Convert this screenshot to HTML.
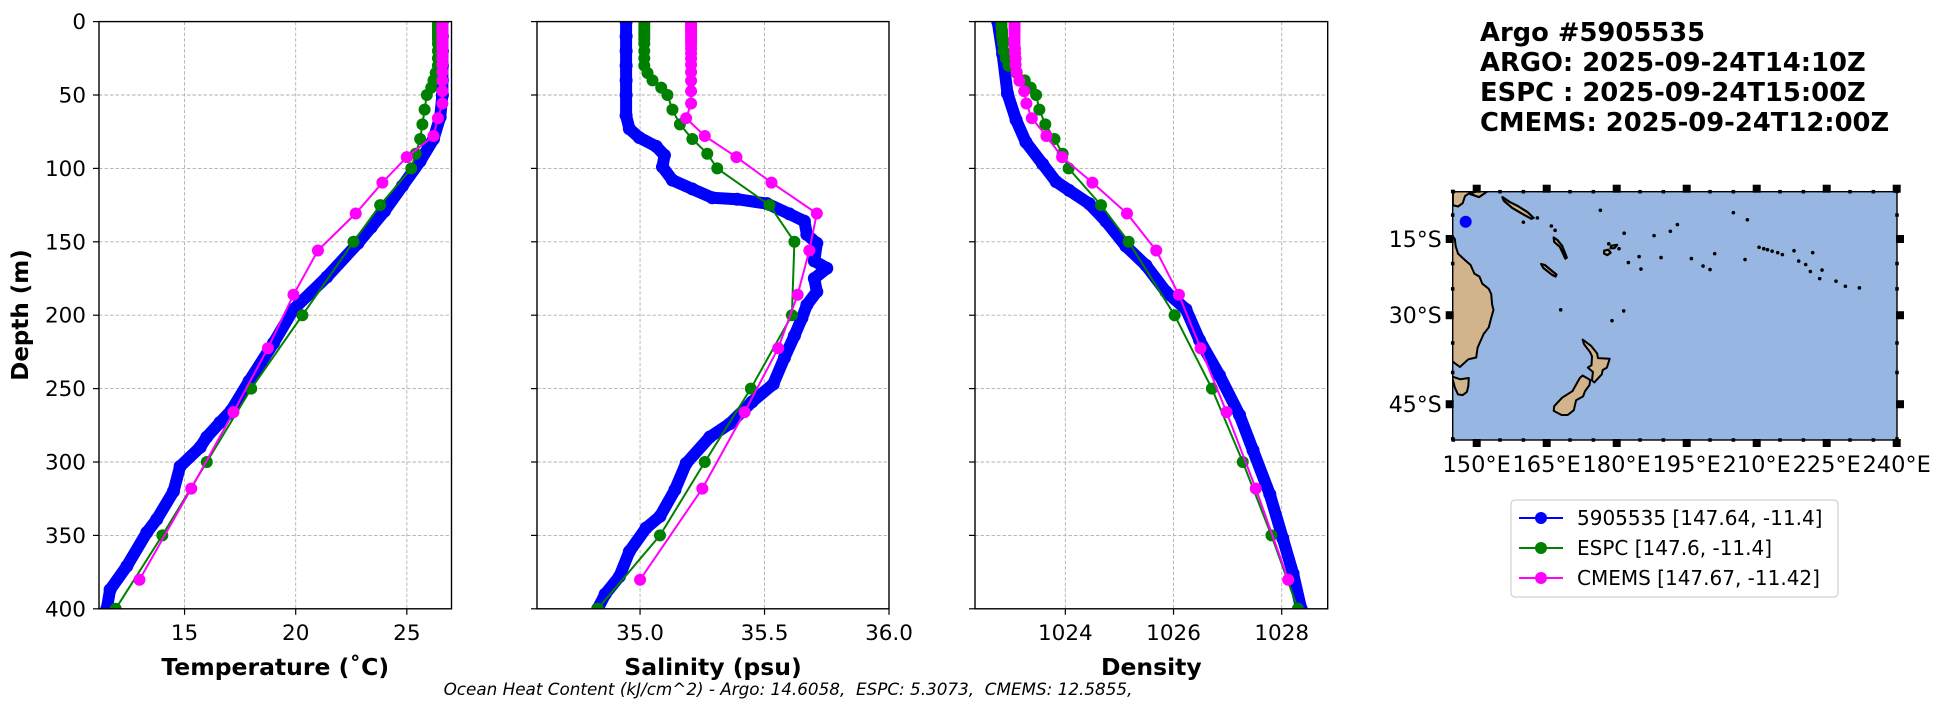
<!DOCTYPE html>
<html><head><meta charset="utf-8"><style>
html,body{margin:0;padding:0;background:#fff;width:1953px;height:712px;overflow:hidden}
svg text{font-family:"DejaVu Sans","Liberation Sans",sans-serif}
</style></head><body>
<svg id="fig" width="1953" height="712" viewBox="0 0 1953 712" xmlns="http://www.w3.org/2000/svg">
<g id="panels"></g>
<g id="mapg"></g>
<g font-weight="bold" font-size="25.8">
<text x="1480" y="41">Argo #5905535</text>
<text x="1480" y="71">ARGO: 2025-09-24T14:10Z</text>
<text x="1480" y="101">ESPC : 2025-09-24T15:00Z</text>
<text x="1480" y="131">CMEMS: 2025-09-24T12:00Z</text>
</g>
<g>
<rect x="1511" y="500" width="327" height="97" rx="4" fill="#fff" stroke="#d0d0d0" stroke-width="1.2"/>
<g><line x1="1519" y1="518" x2="1563" y2="518" stroke="#0000ff" stroke-width="2"/><circle cx="1541" cy="518" r="6" fill="#0000ff"/><text x="1577" y="525" font-size="20">5905535 [147.64, -11.4]</text></g>
<g><line x1="1519" y1="548" x2="1563" y2="548" stroke="#008000" stroke-width="2"/><circle cx="1541" cy="548" r="6" fill="#008000"/><text x="1577" y="555" font-size="20">ESPC [147.6, -11.4]</text></g>
<g><line x1="1519" y1="578" x2="1563" y2="578" stroke="#ff00ff" stroke-width="2"/><circle cx="1541" cy="578" r="6" fill="#ff00ff"/><text x="1577" y="585" font-size="20">CMEMS [147.67, -11.42]</text></g>
</g>
<text x="788" y="695" font-size="16.8" font-style="italic" text-anchor="middle">Ocean Heat Content (kJ/cm^2) - Argo: 14.6058,&#160; ESPC: 5.3073,&#160; CMEMS: 12.5855,</text>
<text transform="translate(28,315) rotate(-90)" font-size="23" font-weight="bold" text-anchor="middle">Depth (m)</text>
</svg>
<script>
// ---- data ----
const depthTicks=[0,50,100,150,200,250,300,350,400];
const espcDepth=[0,2,4,6,8,10,12,15,20,25,30,35,40,45,50,60,70,80,90,100,125,150,200,250,300,350,400];
const cmemsDepth=[0.5,1.5,2.6,3.8,5.1,6.4,7.9,9.6,11.4,13.5,15.8,18.5,21.6,25.2,29.4,34.4,40.3,47.4,55.8,65.8,77.9,92.3,109.7,130.7,155.9,186.1,222.5,266.0,318.1,380.2];
const argoTempDepth=[0,10,20,30,40,50,65,80,95,112,129,140,151,174,196,219,245,265,273,283,290,303,320,339,348,371,387,400];
const argoTemp=[26.6,26.6,26.6,26.6,26.6,26.6,26.5,26.2,25.6,24.8,24.0,23.4,22.8,21.4,19.9,19.0,17.9,17.1,16.6,16.0,15.7,14.8,14.5,13.75,13.3,12.4,11.65,11.5];
const espcTemp=[26.4,26.4,26.4,26.4,26.4,26.4,26.4,26.4,26.4,26.4,26.4,26.3,26.2,26.1,25.9,25.8,25.7,25.6,25.4,25.2,23.8,22.6,20.3,18.0,16.0,14.0,11.9];
const cmemsTemp=[26.6,26.6,26.6,26.6,26.6,26.6,26.6,26.6,26.6,26.6,26.6,26.6,26.6,26.6,26.6,26.6,26.6,26.6,26.6,26.4,26.2,25.0,23.9,22.7,21.0,19.9,18.75,17.2,15.3,12.97];
const argoSalDepth=[0,10,20,30,40,50,64,73,79,85,91,99,108,114,120,121,124,131,136,145,151,163,168,175,184,193,202,214,229,247,259,274,283,301,319,337,345,361,378,390,400];
const argoSal=[34.944,34.944,34.944,34.944,34.944,34.944,34.944,34.957,34.997,35.065,35.098,35.09,35.13,35.21,35.29,35.39,35.51,35.6,35.66,35.67,35.71,35.7,35.75,35.7,35.71,35.67,35.65,35.62,35.58,35.535,35.45,35.36,35.28,35.185,35.14,35.08,35.024,34.957,34.917,34.86,34.83];
const espcSal=[35.017,35.017,35.017,35.017,35.017,35.017,35.017,35.017,35.017,35.017,35.017,35.03,35.05,35.085,35.11,35.13,35.16,35.21,35.27,35.31,35.52,35.62,35.61,35.445,35.26,35.08,34.83];
const cmemsSal=[35.205,35.205,35.205,35.205,35.205,35.205,35.205,35.205,35.205,35.205,35.205,35.205,35.205,35.205,35.205,35.205,35.205,35.205,35.205,35.185,35.26,35.387,35.528,35.71,35.68,35.633,35.555,35.42,35.25,35.0];
const argoDenDepth=[0,22,49,67,82,97,109,115,124,136,153,166,184,196,217,241,268,292,322,352,376,400];
const argoDen=[1022.75,1022.84,1022.93,1023.09,1023.27,1023.58,1023.83,1024.07,1024.44,1024.75,1025.12,1025.49,1025.86,1026.23,1026.48,1026.85,1027.22,1027.47,1027.78,1028.02,1028.21,1028.36];
const espcDen=[1022.82,1022.82,1022.82,1022.83,1022.83,1022.83,1022.84,1022.85,1022.86,1022.9,1022.95,1023.1,1023.25,1023.36,1023.46,1023.52,1023.63,1023.8,1023.95,1024.06,1024.66,1025.17,1026.02,1026.71,1027.28,1027.81,1028.3];
const cmemsDen=[1023.06,1023.06,1023.06,1023.06,1023.06,1023.06,1023.06,1023.06,1023.06,1023.06,1023.06,1023.07,1023.07,1023.08,1023.08,1023.1,1023.15,1023.24,1023.28,1023.38,1023.65,1023.94,1024.5,1025.14,1025.68,1026.1,1026.5,1026.98,1027.52,1028.12];
const tempTicks=[15,20,25], salTicks=[35.0,35.5,36.0], denTicks=[1024,1026,1028];
const salTickLabels=["35.0","35.5","36.0"], tempTickLabels=["15","20","25"], denTickLabels=["1024","1026","1028"];

const NS="http://www.w3.org/2000/svg";
function el(tag,attrs,parent){const e=document.createElementNS(NS,tag);for(const k in attrs)e.setAttribute(k,attrs[k]);parent.appendChild(e);return e;}
const TOP=21.6,BOT=608.8;
const yD=d=>TOP+(BOT-TOP)*d/400;
const panelsG=document.getElementById('panels');

function panel(name,x0,x1,vmin,vmax,ticks,tlabels,title,showY,series){
  const g=el('g',{},panelsG);
  
  
  const xV=v=>x0+(x1-x0)*(v-vmin)/(vmax-vmin);
  const clip=el('clipPath',{id:'c'+name},g);el('rect',{x:x0,y:TOP,width:x1-x0,height:BOT-TOP},clip);
  depthTicks.forEach((d,i)=>{
    const gl=el('line',{x1:x0,x2:x1,y1:yD(d),y2:yD(d),stroke:'#b0b0b0','stroke-width':0.9,'stroke-dasharray':'3.5,2'},g);
    
    
    el('line',{x1:x0-6,x2:x0,y1:yD(d),y2:yD(d),stroke:'#000','stroke-width':1.2},g);
    if(showY){const t=el('text',{x:x0-13,y:yD(d)+7.5,'font-size':21.5,'text-anchor':'end'},g);t.textContent=d;
      
      }
  });
  ticks.forEach((v,i)=>{
    const gl=el('line',{x1:xV(v),x2:xV(v),y1:TOP,y2:BOT,stroke:'#b0b0b0','stroke-width':0.9,'stroke-dasharray':'3.5,2'},g);
    
    
    el('line',{x1:xV(v),x2:xV(v),y1:BOT,y2:BOT+6,stroke:'#000','stroke-width':1.2},g);
    const t=el('text',{x:xV(v),y:640,'font-size':21.5,'text-anchor':'middle'},g);t.textContent=tlabels[i];
    
    
  });
  const sg=el('g',{'clip-path':'url(#c'+name+')'},g);
  series.forEach(s=>{
    const pts=s.v.map((v,i)=>xV(v).toFixed(1)+','+yD(s.d[i]).toFixed(1)).join(' ');
    const line=el('polyline',{points:pts,fill:'none',stroke:s.c,'stroke-width':s.w,'stroke-linejoin':'round','stroke-linecap':'round'},sg);
    
    
    s.v.forEach((v,i)=>{const c=el('circle',{cx:xV(v),cy:yD(s.d[i]),r:s.r,fill:s.c},sg);
      
      });
  });
  el('rect',{x:x0,y:TOP,width:x1-x0,height:BOT-TOP,fill:'none',stroke:'#000','stroke-width':1.4},g);
  const at=el('text',{x:(x0+x1)/2,y:675,'font-size':23.5,'font-weight':'bold','text-anchor':'middle'},g);at.textContent=title;
  
  
}
panel('temperature',99,451.5,11.15,27.01,tempTicks,tempTickLabels,'Temperature (˚C)',true,[
 {n:'argo',d:argoTempDepth,v:argoTemp,c:'#0000ff',w:12,r:6.5},
 {n:'espc',d:espcDepth,v:espcTemp,c:'#008000',w:2,r:6},
 {n:'cmems',d:cmemsDepth,v:cmemsTemp,c:'#ff00ff',w:2,r:6}]);
panel('salinity',537,889,34.586,36.0,salTicks,salTickLabels,'Salinity (psu)',false,[
 {n:'argo',d:argoSalDepth,v:argoSal,c:'#0000ff',w:12,r:6.5},
 {n:'espc',d:espcDepth,v:espcSal,c:'#008000',w:2,r:6},
 {n:'cmems',d:cmemsDepth,v:cmemsSal,c:'#ff00ff',w:2,r:6}]);
panel('density',975,1327.7,1022.33,1028.85,denTicks,denTickLabels,'Density',false,[
 {n:'argo',d:argoDenDepth,v:argoDen,c:'#0000ff',w:12,r:6.5},
 {n:'espc',d:espcDepth,v:espcDen,c:'#008000',w:2,r:6},
 {n:'cmems',d:cmemsDepth,v:cmemsDen,c:'#ff00ff',w:2,r:6}]);

// ---- map ----
const lonTicks=[150,165,180,195,210,225,240];
const lonTickLabels=["150°E","165°E","180°E","195°E","210°E","225°E","240°E"];
const latTicks=[-15,-30,-45];
const latTickLabels=["15°S","30°S","45°S"];
const argoLon=147.64, argoLat=-11.4;
const newGuinea=[[144.9,-7.9],[144.9,-5],[149,-5],[147.5,-6],[147,-7.5],[146,-8.2],[144.9,-7.9]];
const australiaMain=[[144.9,-14.5],[145.3,-15],[145.5,-16.5],[146,-18],[147.5,-19.3],[148.7,-20.3],[149.5,-22],[150.6,-22.6],[151.2,-24],[152.6,-25],[153.1,-26],[153.3,-28],[153.6,-29],[153.1,-30.5],[152.6,-32.2],[151.5,-33.4],[150.9,-34.5],[150.2,-35.8],[149.9,-37.5],[148.2,-37.8],[146.4,-39.1],[145.2,-38.4],[144.9,-38.2]];
const tasmania=[[144.9,-40.7],[146.5,-41.1],[148.3,-40.9],[148.2,-42.2],[147.9,-43.1],[147,-43.6],[146,-43.5],[145.3,-42.4],[144.9,-41.2]];
const nzNorth=[[172.7,-34.4],[174.5,-35.5],[175.8,-36.8],[176,-37.6],[178.5,-37.7],[177.9,-39.2],[177,-39.6],[176.8,-40.3],[175.2,-41.6],[174.7,-41.3],[174.9,-39.9],[173.8,-39.2],[174.6,-38.8],[174.7,-37.3],[174.3,-36.6],[173,-35.2]];
const nzSouth=[[172.7,-40.5],[174.3,-41.2],[174.2,-42],[173.2,-43],[172.8,-43.8],[171.3,-44.4],[170.8,-45.9],[169.5,-46.6],[168.2,-46.6],[166.5,-46],[166.6,-45.3],[168.3,-44],[170.5,-43],[171.5,-41.7],[172.1,-40.9]];
const newCaledonia=[[163.8,-20.1],[164.6,-20.3],[167.1,-22.2],[166.9,-22.6],[166.1,-22.2],[164.3,-20.9]];
const solomons=[[155.5,-6.2],[157,-7.2],[158.8,-8.1],[160.9,-9.4],[162.2,-10.6],[161.7,-10.8],[159.5,-9.6],[157.6,-8.5],[155.8,-7]];
const newBritain=[[148.5,-5.5],[151.5,-4.4],[152.3,-5],[150.5,-6.2]];
const fiji=[[177.3,-17.4],[178.2,-17.2],[178.7,-17.8],[178,-18.3],[177.3,-18]];
const fiji2=[[178.8,-16.4],[180.1,-16.2],[179.5,-16.9],[178.7,-16.9]];
const vanuatu=[[166.5,-14.7],[167.3,-15.2],[168.3,-16.4],[169.3,-18.8],[169,-19],[167.8,-16.6],[166.6,-15.6]];
const islandLon=[160,163,166.8,166,178.3,180.5,181.6,184.8,185.2,188,191.5,201,200,210.5,211.5,212.3,213.3,214.5,215.5,218,222,223.5,224,227,229,232,168,179,181.5,176.5,193,205,208,207.5,219,220.5,221.5,182.5,189.5,196,198.5];
const islandLat=[-11.5,-10.6,-13.2,-12.3,-16,-17,-13.8,-18.6,-21.1,-14.3,-13.4,-18,-21.2,-16.7,-17,-17.2,-17.5,-17.8,-18.2,-17.4,-17.8,-23,-21.3,-23.5,-24.5,-24.8,-29,-31,-29.2,-9,-12,-9.5,-11,-19.2,-19.5,-20.2,-21.6,-19.8,-18.8,-19,-20.5];
const M=lat=>Math.log(Math.tan(Math.PI/4+lat*Math.PI/360));
const MX0=1452.7,MX1=1897,MY0=191.7,MY1=440;
const mx=lon=>1476.7+(lon-150)*70/15;
const my=lat=>239-268*(M(lat)-M(-15));
const mg=document.getElementById('mapg');
const mclip=el('clipPath',{id:'mapclip'},mg);el('rect',{x:MX0,y:MY0,width:MX1-MX0,height:MY1-MY0},mclip);
const ocean=el('rect',{x:MX0,y:MY0,width:MX1-MX0,height:MY1-MY0,fill:'#97b6e1'},mg);


const lg=el('g',{'clip-path':'url(#mapclip)'},mg);
function land(poly,name,sw){
  let pts=poly.map(p=>mx(p[0]).toFixed(1)+','+my(p[1]).toFixed(1));
  const p=el('polygon',{points:pts.join(' '),fill:'#d2b48c',stroke:'#000','stroke-width':sw||2,'stroke-linejoin':'round'},lg);
  
  
}
land(newGuinea,'new-guinea-land');
land(australiaMain.concat([[140,-38.2],[140,-14.5]]),'australia-land');
land(tasmania.concat([[140,-41.2],[140,-40.7]]),'tasmania-land');
land(nzNorth,'nz-north-island');
land(nzSouth,'nz-south-island');
land(newCaledonia,'new-caledonia',2.2);
land(solomons,'solomon-islands',2.2);
land(newBritain,'new-britain',2.2);
land(fiji,'fiji-viti-levu',2.2);
land(fiji2,'fiji-vanua-levu',2.2);
land(vanuatu,'vanuatu',2.2);
islandLon.forEach((lo,i)=>{const c=el('circle',{cx:mx(lo),cy:my(islandLat[i]),r:1.8,fill:'#000'},lg);
  
  });
const dot=el('circle',{cx:mx(argoLon),cy:my(argoLat),r:6,fill:'#0000ff'},lg);


el('rect',{x:MX0,y:MY0,width:MX1-MX0,height:MY1-MY0,fill:'none',stroke:'#000','stroke-width':1.4},mg);
for(let lo=145;lo<=240;lo+=5){const X=mx(lo);if(X<MX0-1)continue;const major=lonTicks.includes(lo);const s=major?8:3.5;
  el('rect',{x:X-s/2,y:MY0-s/2-(major?3:0),width:s,height:s,fill:'#000'},mg);
  el('rect',{x:X-s/2,y:MY1-s/2+(major?3:0),width:s,height:s,fill:'#000'},mg);}
for(let la=-5;la>=-50;la-=5){const Y=my(la);const major=latTicks.includes(la);const s=major?8:3.5;
  el('rect',{x:MX0-s/2-(major?3:0),y:Y-s/2,width:s,height:s,fill:'#000'},mg);
  el('rect',{x:MX1-s/2+(major?3:0),y:Y-s/2,width:s,height:s,fill:'#000'},mg);}
lonTicks.forEach((lo,i)=>{const t=el('text',{x:mx(lo),y:472,'font-size':22.5,'text-anchor':'middle'},mg);t.textContent=lonTickLabels[i];
  
  });
latTicks.forEach((la,i)=>{const t=el('text',{x:MX0-11,y:my(la)+8,'font-size':22,'text-anchor':'end'},mg);t.textContent=latTickLabels[i];
  
  });
</script>
</body></html>
